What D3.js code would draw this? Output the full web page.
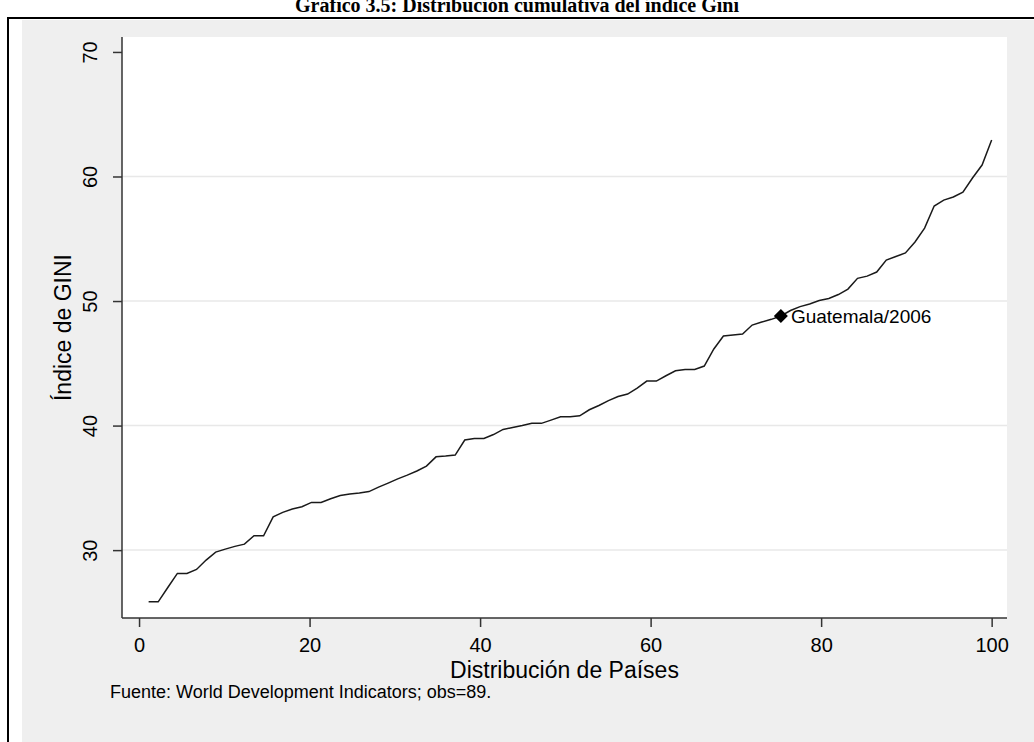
<!DOCTYPE html>
<html>
<head>
<meta charset="utf-8">
<script src="https://cdn.jsdelivr.net/npm/d3@7"></script>
<style>
  body { margin:0; background:#fff; }
  text { font-family: "Liberation Sans", Arial, sans-serif; fill:#000; }
  .title { font-family: "Liberation Serif", "Times New Roman", serif; font-weight:bold; }
</style>
</head>
<body>
<div id="chart"></div>
<script>

// Distribucion cumulativa del indice Gini (89 paises)
var gini = [25.85, 25.85, 27.0, 28.13, 28.13, 28.45, 29.2, 29.84, 30.08, 30.3,
            30.48, 31.15, 31.15, 32.67, 33.03, 33.3, 33.48, 33.83, 33.83, 34.13,
            34.38, 34.5, 34.58, 34.7, 35.06, 35.38, 35.72, 36.02, 36.35, 36.75,
            37.49, 37.55, 37.63, 38.84, 38.97, 38.97, 39.28, 39.69, 39.84, 40.0,
            40.18, 40.18, 40.44, 40.7, 40.7, 40.78, 41.27, 41.61, 42.0, 42.33,
            42.53, 43.0, 43.57, 43.57, 44.0, 44.4, 44.51, 44.51, 44.78, 46.15,
            47.19, 47.27, 47.35, 48.07, 48.31, 48.53, 48.8, 49.24, 49.55, 49.76,
            50.04, 50.2, 50.52, 50.96, 51.82, 52.0, 52.33, 53.29, 53.57, 53.86,
            54.74, 55.86, 57.63, 58.1, 58.35, 58.75, 59.88, 60.92, 62.93];
var highlight = {index: 66, label: "Guatemala/2006"};
var xTicks = [0, 20, 40, 60, 80, 100];
var yTicks = [30, 40, 50, 60, 70];
var yGrid = [30, 40, 50, 60];

var width = 1034, height = 742;
var pLeft = 122, pRight = 1007, pTop = 37, pBottom = 618;

var svg = d3.select("#chart").append("svg")
    .attr("width", width)
    .attr("height", height);

// marco exterior
svg.append("rect").attr("x", 0).attr("y", 0).attr("width", width).attr("height", height).attr("fill", "#fff");
svg.append("rect").attr("x", 22).attr("y", 20).attr("width", width).attr("height", height).attr("fill", "#efefef");
svg.append("line").attr("x1", 8).attr("x2", 8).attr("y1", 18).attr("y2", height)
    .attr("stroke", "#000").attr("stroke-width", 2);
svg.append("line").attr("x1", 7).attr("x2", width).attr("y1", 18).attr("y2", 18)
    .attr("stroke", "#000").attr("stroke-width", 2);

svg.append("text")
    .attr("class", "title")
    .attr("x", width / 2)
    .attr("y", 12)
    .attr("text-anchor", "middle")
    .style("font-size", "20px")
    .text("Gráfico 3.5: Distribución cumulativa del índice Gini");

var x = d3.scaleLinear().domain([-2, 101.8]).range([pLeft, pRight]);
var y = d3.scaleLinear().domain([24.55, 71.2]).range([pBottom, pTop]);

svg.append("rect")
    .attr("x", pLeft).attr("y", pTop)
    .attr("width", pRight - pLeft).attr("height", pBottom - pTop)
    .attr("fill", "#fff");

svg.selectAll(".grid")
    .data(yGrid)
  .enter().append("line")
    .attr("class", "grid")
    .attr("x1", pLeft).attr("x2", pRight)
    .attr("y1", function(d) { return y(d); })
    .attr("y2", function(d) { return y(d); })
    .attr("stroke", "#e8e8e8")
    .attr("stroke-width", 1.5);

// ejes
var gx = svg.append("g")
    .attr("transform", "translate(0," + pBottom + ")")
    .call(d3.axisBottom(x).tickValues(xTicks).tickSize(9).tickPadding(8));
var gy = svg.append("g")
    .attr("transform", "translate(" + pLeft + ",0)")
    .call(d3.axisLeft(y).tickValues(yTicks).tickSize(9));

gx.select(".domain").attr("d", "M" + pLeft + ",0H" + pRight);
gy.select(".domain").attr("d", "M0," + pTop + "V" + pBottom);
svg.selectAll(".domain, .tick line").attr("stroke", "#333").attr("stroke-width", 1.5);
svg.selectAll(".tick text").attr("fill", "#000");

gx.selectAll(".tick text")
    .attr("dy", null)
    .attr("y", 34)
    .style("font-size", "20px");

gy.selectAll(".tick text")
    .attr("dy", null)
    .attr("x", null)
    .attr("text-anchor", "middle")
    .attr("transform", "translate(-25,0) rotate(-90)")
    .style("font-size", "20px");

svg.append("text")
    .attr("x", (pLeft + pRight) / 2)
    .attr("y", 678)
    .attr("text-anchor", "middle")
    .style("font-size", "23px")
    .text("Distribución de Países");

svg.append("text")
    .attr("transform", "translate(71," + (pTop + pBottom) / 2 + ") rotate(-90)")
    .attr("text-anchor", "middle")
    .style("font-size", "23px")
    .text("Índice de GINI");

svg.append("text")
    .attr("x", 110)
    .attr("y", 698)
    .style("font-size", "18px")
    .text("Fuente: World Development Indicators; obs=" + gini.length + ".");

// curva
var line = d3.line()
    .x(function(d, i) { return x((i + 1) / gini.length * 100); })
    .y(function(d) { return y(d); });

svg.append("path")
    .datum(gini)
    .attr("d", line)
    .attr("fill", "none")
    .attr("stroke", "#1a1a1a")
    .attr("stroke-width", 1.5);

var hx = x((highlight.index + 1) / gini.length * 100);
var hy = y(gini[highlight.index]);

svg.append("path")
    .attr("d", d3.symbol().type(d3.symbolSquare).size(98))
    .attr("transform", "translate(" + hx + "," + hy + ") rotate(45)")
    .attr("fill", "#000");

svg.append("text")
    .attr("x", hx + 10)
    .attr("y", hy)
    .attr("dy", "0.35em")
    .style("font-size", "19px")
    .text(highlight.label);

</script>
</body>
</html>
